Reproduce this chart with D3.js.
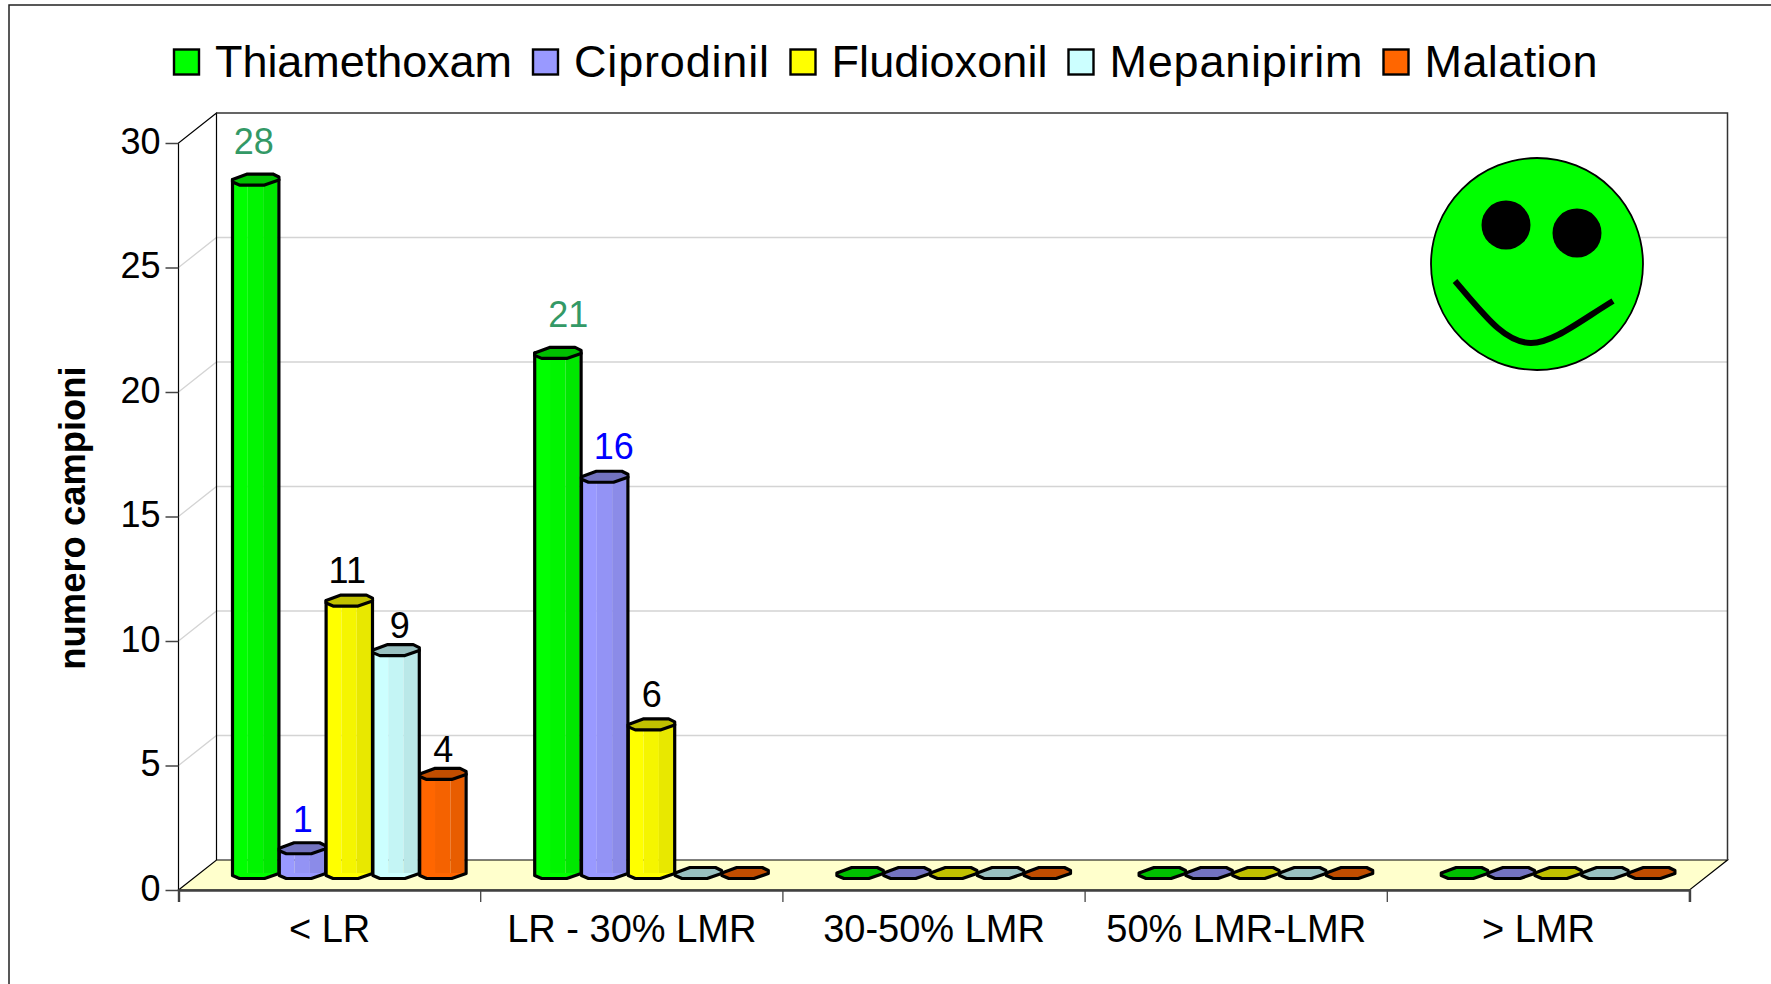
<!DOCTYPE html>
<html>
<head>
<meta charset="utf-8">
<script src="https://cdn.jsdelivr.net/npm/d3@7"></script>
<style>
  html, body { margin: 0; padding: 0; background: #fff; overflow: hidden; }
  text { font-family: "Liberation Sans", Arial, sans-serif; }
</style>
</head>
<body>
<div class="container"></div>
<script>
const categories = ['< LR', 'LR - 30% LMR', '30-50% LMR', '50% LMR-LMR', '> LMR']
const seriesNames = ['Thiamethoxam', 'Ciprodinil', 'Fludioxonil', 'Mepanipirim', 'Malation']
const thiamethoxam = [28, 21, 0, 0, 0]
const ciprodinil = [1, 16, 0, 0, 0]
const fludioxonil = [11, 6, 0, 0, 0]
const mepanipirim = [9, 0, 0, 0, 0]
const malation = [4, 0, 0, 0, 0]
const seriesValues = [thiamethoxam, ciprodinil, fludioxonil, mepanipirim, malation]
const seriesColors = ['#00ff00', '#9999ff', '#ffff00', '#ccffff', '#ff6600']
const capColors = ['#00c000', '#7373c0', '#c0c000', '#99c0c0', '#c04d00']
const labelColors = ['#339966', '#0000ff', '#000000', '#000000', '#000000']
const yTicks = [0, 5, 10, 15, 20, 25, 30]

// Size of plot
const width = 1771
const height = 984
const depthX = 38
const depthY = 30
const front = {left: 178.5, right: 1689.5, top: 143, bottom: 890}

// Legend boxes and label widths, placed by hand like the original
const legendLeft = [173, 532, 789.5, 1067.5, 1382.5]
const legendWidth = [297, 195, 216, 253, 173]

// Data labels were dragged around in the original: [series, category, dx, dy]
const labelNudges = [
    [0, 1, 12.4, 0], [1, 1, 11, 8], [2, 1, 2.3, 8],
    [1, 0, 2.3, 9], [2, 0, 0, 8], [3, 0, 5.6, 13.5], [4, 0, 2.3, 13.5]
]

const svg = d3.select(".container")
    .append("svg")
    .attr("width", width)
    .attr("height", height)
    .style("display", "block")

// Outer frame, runs off the right and bottom of the picture
svg.append("rect")
    .attr("x", 9).attr("y", 5)
    .attr("width", width + 20).attr("height", height + 20)
    .attr("fill", "#fff")
    .attr("stroke", "#222").attr("stroke-width", 1.5)

// Scales
const xScale = d3.scaleBand().domain(categories).range([front.left, front.right])
const xInner = d3.scaleBand().domain(seriesNames).range([34, 268])
const yScale = d3.scaleLinear().domain([0, 30]).range([front.bottom, front.top])
// bars stand half way into the depth of the floor
const yBar = d3.scaleLinear().domain([0, 30]).range([873, 130])
const barShift = 20

// Walls and floor
const wall = svg.append("g")
wall.selectAll(".grid")
    .data(yTicks.slice(1, -1))
    .enter()
    .append("path")
    .attr("fill", "none")
    .attr("stroke", "#d4d4d4")
    .attr("stroke-width", 1.3)
    .attr("d", d => `M${front.left},${yScale(d)}L${front.left + depthX},${yScale(d) - depthY}H${front.right + depthX}`)

wall.append("path")
    .attr("d", `M${front.left},${front.bottom}L${front.left + depthX},${front.bottom - depthY}H${front.right + depthX}L${front.right},${front.bottom}Z`)
    .attr("fill", "#ffffcc")
    .attr("stroke", "#000")
    .attr("stroke-width", 1.2)

wall.append("path")
    .attr("d", `M${front.left},${front.bottom}V${front.top}L${front.left + depthX},${front.top - depthY}V${front.bottom - depthY}`)
    .attr("fill", "none")
    .attr("stroke", "#000")
    .attr("stroke-width", 1.2)

wall.append("path")
    .attr("d", `M${front.left + depthX},${front.top - depthY}H${front.right + depthX}V${front.bottom - depthY}`)
    .attr("fill", "none")
    .attr("stroke", "#333")
    .attr("stroke-width", 1.5)

// Axes
const yAxis = svg.append("g")
    .attr("transform", `translate(${front.left}, 0)`)
    .call(d3.axisLeft(yScale).tickValues(yTicks).tickSize(13).tickPadding(5))
yAxis.select(".domain").remove()
yAxis.selectAll("line").attr("stroke", "#444").attr("stroke-width", 1.5)
yAxis.selectAll("text")
    .attr("fill", "#000")
    .attr("y", -1.5)
    .style("font-size", "36px")

const xAxis = svg.append("g")
    .attr("transform", `translate(0, ${front.bottom})`)
    .call(d3.axisBottom(xScale).tickSize(12).tickSizeOuter(12).tickPadding(13))
xAxis.select(".domain").attr("stroke", "#404040").attr("stroke-width", 2.4)
xAxis.selectAll(".tick line")
    .attr("stroke", "#444")
    .attr("stroke-width", 1.3)
    .attr("x1", xScale.bandwidth() / 2)
    .attr("x2", xScale.bandwidth() / 2)
xAxis.selectAll("text")
    .attr("fill", "#000")
    .style("font-size", "38px")

svg.append("text")
    .attr("transform", "translate(85, 518) rotate(-90)")
    .attr("text-anchor", "middle")
    .style("font-size", "36.4px")
    .style("font-weight", "bold")
    .text("numero campioni")

// Time for the cylinders
const capShape = [[0, 0], [.32, -5.5], [.87, -5.5], [1, -2.5], [1, .5], [.69, 5.5], [.15, 5.5], [0, 2.5]]
const stripes = [[0, .33, 1], [.33, .66, .96], [.66, .97, .91], [.97, 1, .85]]

const flat = []
seriesValues.forEach((vals, s) => {
    vals.forEach((v, c) => {
        const nudge = labelNudges.find(n => n[0] === s && n[1] === c) || [s, c, 0, 0]
        flat.push({s: s, c: c, value: v, dx: nudge[2], dy: nudge[3]})
    })
})

const barLeft = d => xScale(categories[d.c]) + xInner(seriesNames[d.s]) + barShift
const w = xInner.bandwidth() - .4
const bars = svg.append("g").selectAll("g")
    .data(flat)
    .enter()
    .append("g")

bars.filter(d => d.value > 0)
    .each(function(d) {
        const g = d3.select(this)
        const x = barLeft(d)
        const top = yBar(d.value)
        const base = yBar(0)
        const body = `M${x},${top}V${base + 2.5}L${x + .15 * w},${base + 5.5}H${x + .69 * w}L${x + w},${base + .5}V${top}Z`
        g.selectAll(".stripe")
            .data(stripes)
            .enter()
            .append("rect")
            .attr("x", t => x + t[0] * w)
            .attr("y", top)
            .attr("width", t => (t[1] - t[0]) * w)
            .attr("height", base - top + 1)
            .attr("fill", t => {
                const col = d3.rgb(seriesColors[d.s])
                return d3.rgb(col.r * t[2], col.g * t[2], col.b * t[2])
            })
        // corner below the bar has to stay the bar colour
        g.append("path")
            .attr("d", `M${x + 1},${base}V${base + 2}L${x + .16 * w},${base + 4.3}H${x + .68 * w}L${x + w - 1},${base}Z`)
            .attr("fill", seriesColors[d.s])
        g.append("path")
            .attr("d", body)
            .attr("fill", "none")
            .attr("stroke", "#000")
            .attr("stroke-width", 3.2)
            .attr("stroke-linejoin", "round")
    })

bars.append("path")
    .attr("d", d => {
        const x = barLeft(d)
        const y = yBar(d.value)
        return "M" + capShape.map(p => `${x + p[0] * w},${y + p[1]}`).join("L") + "Z"
    })
    .attr("fill", d => capColors[d.s])
    .attr("stroke", "#000")
    .attr("stroke-width", 3.2)
    .attr("stroke-linejoin", "round")

bars.filter(d => d.value > 0)
    .append("text")
    .attr("x", d => barLeft(d) + w / 2 - 2 + d.dx)
    .attr("y", d => yBar(d.value) - 25.5 + d.dy)
    .attr("text-anchor", "middle")
    .attr("fill", d => labelColors[d.s])
    .style("font-size", "36px")
    .text(d => d.value)

// Legend
seriesNames.forEach((name, i) => {
    svg.append("rect")
        .attr("x", legendLeft[i] + 1).attr("y", 49.5)
        .attr("width", 25).attr("height", 25)
        .attr("fill", seriesColors[i])
        .attr("stroke", "#000").attr("stroke-width", 2.4)
    svg.append("text")
        .attr("x", legendLeft[i] + 42)
        .attr("y", 76.5)
        .attr("textLength", legendWidth[i])
        .style("font-size", "45px")
        .text(name)
})

// Smiley
const face = svg.append("g")
face.append("circle")
    .attr("cx", 1537).attr("cy", 264).attr("r", 106)
    .attr("fill", "#00ff00")
    .attr("stroke", "#000").attr("stroke-width", 1.8)
face.append("circle").attr("cx", 1506).attr("cy", 225).attr("r", 24.5)
face.append("circle").attr("cx", 1577).attr("cy", 233).attr("r", 24.5)
const mouth = d3.path()
mouth.moveTo(1455, 281)
mouth.bezierCurveTo(1485, 316, 1505, 343, 1531, 343)
mouth.bezierCurveTo(1553, 343, 1580, 321, 1613, 301)
face.append("path")
    .attr("d", mouth.toString())
    .attr("fill", "none")
    .attr("stroke", "#000")
    .attr("stroke-width", 6)
</script>
</body>
</html>
